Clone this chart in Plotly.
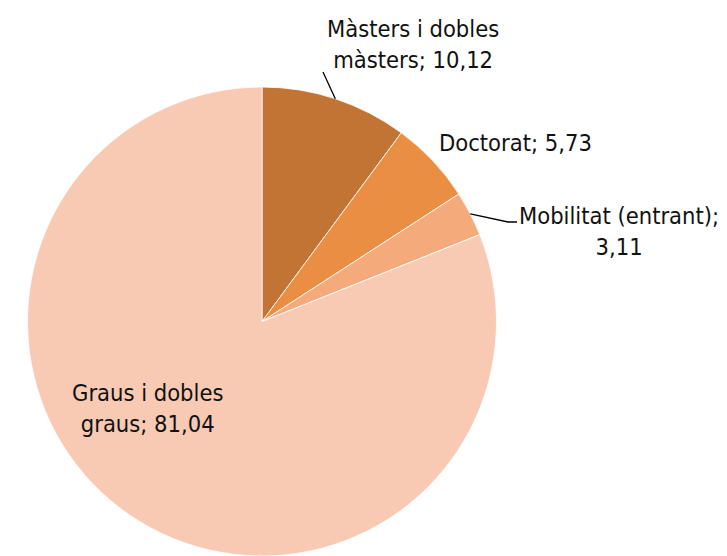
import math
import plotly.graph_objects as go

categories = ["Màsters i dobles màsters", "Doctorat", "Mobilitat (entrant)", "Graus i dobles graus"]
values = [10.12, 5.73, 3.11, 81.04]
label_texts = ["Màsters i dobles<br>màsters; 10,12", "Doctorat; 5,73",
               "Mobilitat (entrant);<br>3,11", "Graus i dobles<br>graus; 81,04"]
colors = ["#C17434", "#E98E42", "#F5AA7C", "#F8CAB4"]

OFF = 8  # page body margin
W, H = 727 - OFF, 556 - OFF
FONT = "DejaVu Sans Condensed, Liberation Sans Narrow, Arial Narrow, sans-serif"

# pie geometry (screen pixels)
cx, top = 262, 87
diam = 556 - top
r = diam / 2
cy = top + r

def px2paper(x, y):
    return (x - OFF) / W, 1 - (y - OFF) / H

dx0, dy1 = px2paper(cx - r, top)
dx1, _ = px2paper(cx + r, top)
fig = go.Figure(go.Pie(
    labels=categories, values=values, sort=False, direction="clockwise", rotation=0,
    marker=dict(colors=colors, line=dict(color="white", width=0.8)),
    textinfo="none", hoverinfo="label+value", showlegend=False,
    domain=dict(x=[dx0, dx1], y=[0, dy1]),
))

# edge point at slice mid-angle, computed from the data
total = sum(values)
cum = 0
edge = []
for v in values:
    mid = (cum + v / 2) / total * 2 * math.pi
    edge.append((cx + r * math.sin(mid), cy - r * math.cos(mid)))
    cum += v

label_pos = [(413, 44), (515, 143), (619, 232), (147, 408)]
for t, (lx, ly) in zip(label_texts, label_pos):
    px_, py_ = px2paper(lx, ly)
    fig.add_annotation(x=px_, y=py_, xref="paper", yref="paper", text=t, showarrow=False,
                       xanchor="center", yanchor="middle", align="center",
                       font=dict(family=FONT, size=23.5, color="#111111"))

# leader lines
x0, y0 = px2paper(*edge[0])
x1, y1 = px2paper(323, 72)
fig.add_shape(type="line", xref="paper", yref="paper", x0=x0, y0=y0, x1=x1, y1=y1,
              line=dict(color="black", width=1.3))
p0 = px2paper(*edge[2])
p1 = px2paper(508, 222)
p2 = px2paper(517, 222)
fig.add_shape(type="path", xref="paper", yref="paper",
              path=f"M {p0[0]},{p0[1]} L {p1[0]},{p1[1]} L {p2[0]},{p2[1]}",
              line=dict(color="black", width=1.3))

fig.update_layout(width=W, height=H, margin=dict(l=0, r=0, t=0, b=0),
                  paper_bgcolor="white", plot_bgcolor="white")
fig.write_html("out.html")
